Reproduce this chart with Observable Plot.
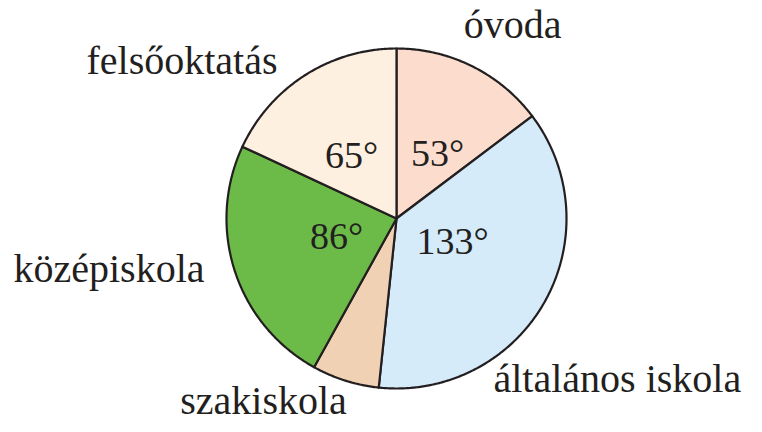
<!DOCTYPE html>
<html>
<head>
<meta charset="utf-8">
<script src="https://cdn.jsdelivr.net/npm/d3@7"></script>
<script src="https://cdn.jsdelivr.net/npm/@observablehq/plot@0.6"></script>
<style>
  html, body { margin: 0; padding: 0; background: #ffffff; }
  #chart svg { display: block; }
  #chart svg text { font-family: "Liberation Serif", "Times New Roman", serif !important; }
</style>
</head>
<body>
<div id="chart"></div>
<script>
// Data (clockwise from 12 o'clock)
const categories = ["óvoda", "általános iskola", "szakiskola", "középiskola", "felsőoktatás"];
const degrees = [53, 133, 23, 86, 65];
const degreeLabels = ["53°", "133°", null, "86°", "65°"];
const colors = ["#fcdccd", "#d5ebfa", "#f1d1b3", "#6cbb49", "#fef0e0"];

// Layout (pixel offsets from pie centre; y positive upwards)
const W = 762, H = 432, CX = 396, CY = 218, R = 170;
const nameLayout = [
  {dx: 116, dy: 181, anchor: "middle"},
  {dx: 97, dy: -173, anchor: "start"},
  {dx: -133, dy: -195, anchor: "middle"},
  {dx: -192, dy: -63, anchor: "end"},
  {dx: -119, dy: 145, anchor: "end"}
];
const degLayout = [
  {dx: 41, dy: 53},
  {dx: 56, dy: -35},
  null,
  {dx: -60, dy: -30},
  {dx: -45, dy: 51}
];

const pie = d3.pie().sort(null).value(d => d.v)
  .startAngle(0).endAngle(2 * Math.PI);
const arcs = pie(categories.map((c, i) => ({c, v: degrees[i]})));

const pts = [];
arcs.forEach(a => {
  const cat = a.data.c;
  pts.push({cat, x: 0, y: 0});
  const n = Math.max(2, Math.ceil((a.endAngle - a.startAngle) / (Math.PI / 360)));
  for (let k = 0; k <= n; k++) {
    const t = a.startAngle + (a.endAngle - a.startAngle) * k / n;
    pts.push({cat, x: R * Math.sin(t), y: R * Math.cos(t)});
  }
  pts.push({cat, x: 0, y: 0});
});

const names = categories.map((c, i) => ({
  text: c, x: nameLayout[i].dx, y: nameLayout[i].dy, anchor: nameLayout[i].anchor
}));
const degs = degreeLabels.map((t, i) => t && ({text: t, x: degLayout[i].dx, y: degLayout[i].dy})).filter(Boolean);

const font = "Liberation Serif";

const plot = Plot.plot({
  width: W,
  height: H,
  margin: 0,
  style: {background: "#ffffff", fontFamily: font},
  x: {domain: [-CX, W - CX], range: [0, W], axis: null},
  y: {domain: [-(H - CY), CY], range: [H, 0], axis: null},
  color: {domain: categories, range: colors},
  marks: [
    Plot.line(pts, {x: "x", y: "y", z: "cat", fill: "cat", stroke: "#231f20", strokeWidth: 2.2, strokeLinejoin: "round"}),
    Plot.text(names.filter(d => d.anchor === "middle"), {x: "x", y: "y", text: "text", textAnchor: "middle", lineAnchor: "bottom", fontSize: 40, fontFamily: font, fill: "#231f20"}),
    Plot.text(names.filter(d => d.anchor === "start"), {x: "x", y: "y", text: "text", textAnchor: "start", lineAnchor: "bottom", fontSize: 40, fontFamily: font, fill: "#231f20"}),
    Plot.text(names.filter(d => d.anchor === "end"), {x: "x", y: "y", text: "text", textAnchor: "end", lineAnchor: "bottom", fontSize: 40, fontFamily: font, fill: "#231f20"}),
    Plot.text(degs, {x: "x", y: "y", text: "text", textAnchor: "middle", lineAnchor: "bottom", fontSize: 38, fontFamily: font, fill: "#231f20"})
  ]
});
document.getElementById("chart").appendChild(plot);
</script>
</body>
</html>
